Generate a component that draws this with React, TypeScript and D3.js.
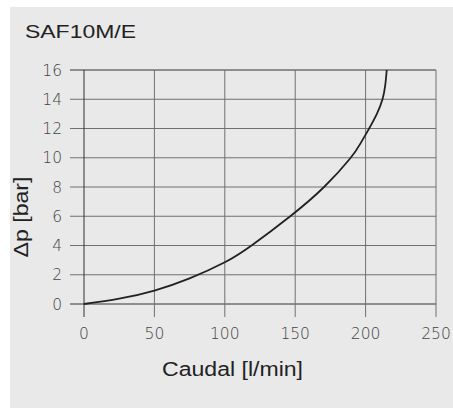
import React from "react";
import * as d3 from "d3";

const title = "SAF10M/E";
const xLabel = "Caudal [l/min]";
const yLabel = "Δp [bar]";
const xTicks = [0, 50, 100, 150, 200, 250];
const yTicks = [0, 2, 4, 6, 8, 10, 12, 14, 16];
const flow = [0, 25, 50, 75, 100, 119, 146.5, 170.5, 189, 196.5, 202.5, 208, 212, 214, 215];
const dp = [0, 0.36, 0.92, 1.75, 2.85, 4.0, 6.0, 8.0, 9.95, 11, 12, 13, 14, 15, 16];

export default function App() {
  const W = 453, H = 408;
  const x = d3.scaleLinear().domain([0, 250]).range([84, 436]);
  const y = d3.scaleLinear().domain([0, 16]).range([304, 70]);
  const pts: [number, number][] = flow.map((f, i) => [f, dp[i]]);
  const line = d3.line<[number, number]>().x(d => x(d[0])).y(d => y(d[1])).curve(d3.curveNatural);
  const font = "'Liberation Sans', Arial, sans-serif";
  return (
    <svg width={W} height={H} style={{ position: "absolute", left: 0, top: 0 }}>
      <rect x={10} y={7} width={W - 10} height={H - 7} fill="#e8e9e8" />
      <text x={25} y={38} fontFamily={font} fontSize={19} fill="#222" textLength={111} lengthAdjust="spacingAndGlyphs">{title}</text>
      {yTicks.map(t => (
        <line key={"h" + t} x1={70} x2={x(250)} y1={y(t)} y2={y(t)} stroke={t === 0 || t === 16 ? "#333" : "#707070"} strokeWidth={1} />
      ))}
      {xTicks.map(t => (
        <line key={"v" + t} x1={x(t)} x2={x(t)} y1={y(16)} y2={317} stroke={t === 0 ? "#333" : "#707070"} strokeWidth={1} />
      ))}
      {yTicks.map(t => (
        <text key={"yl" + t} x={62} y={y(t)} dy="0.36em" textAnchor="end" fontFamily="'DejaVu Sans', sans-serif" fontWeight={300} fontSize={15.5} fill="#444">{t}</text>
      ))}
      {xTicks.map(t => (
        <text key={"xl" + t} x={x(t)} y={333} dy="0.36em" textAnchor="middle" fontFamily="'DejaVu Sans', sans-serif" fontWeight={300} fontSize={15.5} fill="#444">{t}</text>
      ))}
      <path d={line(pts) || ""} fill="none" stroke="#222" strokeWidth={1.8} />
      <text x={162} y={376} fontFamily={font} fontSize={20} fill="#222" textLength={141} lengthAdjust="spacingAndGlyphs">{xLabel}</text>
      <text transform="translate(28,217) rotate(-90)" textAnchor="middle" fontFamily={font} fontSize={20} fill="#222" textLength={81} lengthAdjust="spacingAndGlyphs">{yLabel}</text>
    </svg>
  );
}
